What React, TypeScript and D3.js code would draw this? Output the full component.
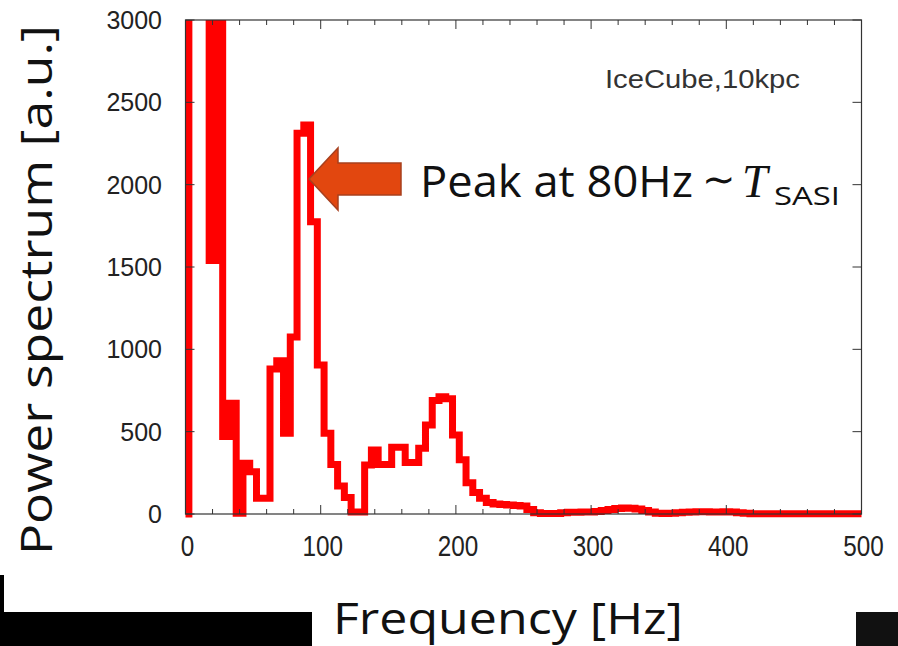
import React from "react";
import * as d3 from "d3";

// Power spectrum histogram, 5 Hz bins centred on 0,5,10,...,500 Hz
const binWidth = 5;
const powerValues = [
  0, 5000, 5000, 5000, 1540, 5000, 470, 672, 5, 308,
  257, 95, 95, 880, 930, 490, 1075, 2312, 2362, 1775,
  905, 490, 300, 170, 100, 12, 12, 297, 389, 300,
  300, 405, 405, 312, 312, 399, 540, 690, 712, 700,
  480, 330, 190, 130, 95, 70, 60, 58, 55, 52,
  48, 28, 8, 3, 3, 3, 8, 10, 10, 12,
  12, 15, 22, 28, 33, 36, 35, 30, 22, 12,
  5, 3, 5, 8, 10, 12, 14, 14, 12, 12,
  14, 12, 8, 4, 2, 2, 2, 2, 2, 2,
  2, 2, 2, 2, 2, 2, 2, 2, 2, 2, 2,
];
const binCenters = powerValues.map((_, i) => i * binWidth);

const xTicksMajor = [0, 100, 200, 300, 400, 500];
const xTicksMinor = [20, 40, 60, 80, 120, 140, 160, 180, 220, 240, 260, 280, 320, 340, 360, 380, 420, 440, 460, 480];
const yTicks = [0, 500, 1000, 1500, 2000, 2500, 3000];

const xLabel = "Frequency [Hz]";
const yLabel = "Power spectrum [a.u.]";
const insetLabel = "IceCube,10kpc";
const peakText = "Peak at 80Hz";
const tildeText = "\u223C";
const tText = "T";
const subText = "SASI";

export default function App() {
  const W = 898, H = 646;
  const left = 185.5, right = 861.5, top = 20, bottom = 514;
  const x = d3.scaleLinear().domain([0, 500]).range([left, right]);
  const y = d3.scaleLinear().domain([0, 3000]).range([bottom, top]);

  const stepPts: [number, number][] = [];
  binCenters.forEach((f, i) => {
    stepPts.push([f - binWidth / 2, powerValues[i]]);
  });
  stepPts.push([binCenters[binCenters.length - 1] + binWidth / 2, powerValues[powerValues.length - 1]]);
  const line = d3
    .line<[number, number]>()
    .x((d) => x(d[0]))
    .y((d) => y(d[1]))
    .curve(d3.curveStepAfter);
  const pathD = line(stepPts) || "";

  const tickFont = "'Liberation Sans', Arial, Helvetica, sans-serif";
  const slideFont = "'Open Sans', 'Noto Sans', sans-serif";

  // arrow annotation geometry (tip points at the 80-90 Hz peak)
  const tipX = 309, tipY = 179;
  const arrowPts = [
    [tipX, tipY],
    [tipX + 29, tipY - 31],
    [tipX + 29, tipY - 16],
    [tipX + 92, tipY - 16],
    [tipX + 92, tipY + 16],
    [tipX + 29, tipY + 16],
    [tipX + 29, tipY + 31],
  ].map((p) => p.join(",")).join(" ");

  return (
    <svg
      width={W}
      height={H}
      style={{ position: "absolute", left: 0, top: 0, background: "#fff" }}
    >
      <defs>
        <clipPath id="plotClip">
          <rect x={left} y={top} width={right - left} height={bottom - top + 6} />
        </clipPath>
      </defs>
      <rect x={0} y={0} width={W} height={H} fill="#fff" />

      <path
        d={pathD}
        fill="none"
        stroke="#ff0000"
        strokeWidth={7}
        strokeLinejoin="miter"
        clipPath="url(#plotClip)"
      />

      {/* frame */}
      <rect x={left} y={top} width={right - left} height={bottom - top} fill="none" stroke="#333" strokeWidth={1.2} />

      {/* x ticks */}
      {xTicksMinor.map((t) => (
        <g key={"xm" + t}>
          <line x1={x(t)} x2={x(t)} y1={bottom} y2={bottom - 5} stroke="#333" strokeWidth={1} />
          <line x1={x(t)} x2={x(t)} y1={top} y2={top + 5} stroke="#333" strokeWidth={1} />
        </g>
      ))}
      {xTicksMajor.map((t) => (
        <g key={"xM" + t}>
          <line x1={x(t)} x2={x(t)} y1={bottom} y2={bottom - 9} stroke="#333" strokeWidth={1} />
          <line x1={x(t)} x2={x(t)} y1={top} y2={top + 9} stroke="#333" strokeWidth={1} />
          <text
            x={x(t) + 2}
            y={556}
            textAnchor="middle"
            fontFamily={tickFont}
            fontSize={29}
            fill="#222"
            textLength={String(t).length * 13.5}
            lengthAdjust="spacingAndGlyphs"
          >
            {t}
          </text>
        </g>
      ))}

      {/* y ticks */}
      {yTicks.map((t) => (
        <g key={"y" + t}>
          <line x1={left} x2={left + 9} y1={y(t)} y2={y(t)} stroke="#333" strokeWidth={1} />
          <line x1={right} x2={right - 9} y1={y(t)} y2={y(t)} stroke="#333" strokeWidth={1} />
          <text
            x={162}
            y={y(t) + 9}
            textAnchor="end"
            fontFamily={tickFont}
            fontSize={25}
            fill="#222"
          >
            {t}
          </text>
        </g>
      ))}

      <text x={605} y={88} fontFamily={tickFont} fontSize={26} fill="#333" textLength={195} lengthAdjust="spacingAndGlyphs">
        {insetLabel}
      </text>

      {/* arrow + annotation */}
      <polygon points={arrowPts} fill="#e2470f" stroke="#a8401e" strokeWidth={1.5} />
      <text x={420} y={197} fontFamily={slideFont} fontSize={44} fill="#111" textLength={273} lengthAdjust="spacingAndGlyphs">
        {peakText}
      </text>
      <text x={702} y={193} fontFamily="'DejaVu Sans', sans-serif" fontSize={40} fill="#111">
        {tildeText}
      </text>
      <text x={742} y={197} fontFamily="'Liberation Serif', 'DejaVu Serif', serif" fontStyle="italic" fontSize={46} fill="#111">
        {tText}
      </text>
      <text x={774} y={205} fontFamily={slideFont} fontSize={25} fill="#111" textLength={66} lengthAdjust="spacingAndGlyphs">
        {subText}
      </text>

      {/* axis titles */}
      <text
        transform={`translate(52, 290) rotate(-90)`}
        textAnchor="middle"
        fontFamily={slideFont}
        fontSize={44}
        fill="#111"
        textLength={530}
        lengthAdjust="spacingAndGlyphs"
      >
        {yLabel}
      </text>
      <text x={333} y={634} fontFamily={slideFont} fontSize={44} fill="#111" textLength={350} lengthAdjust="spacingAndGlyphs">
        {xLabel}
      </text>

      {/* slide decoration at the bottom */}
      <rect x={0} y={612} width={312} height={34} fill="#000" />
      <rect x={0} y={575} width={4} height={37} fill="#000" />
      <rect x={856} y={612} width={42} height={34} fill="#111" />
    </svg>
  );
}
